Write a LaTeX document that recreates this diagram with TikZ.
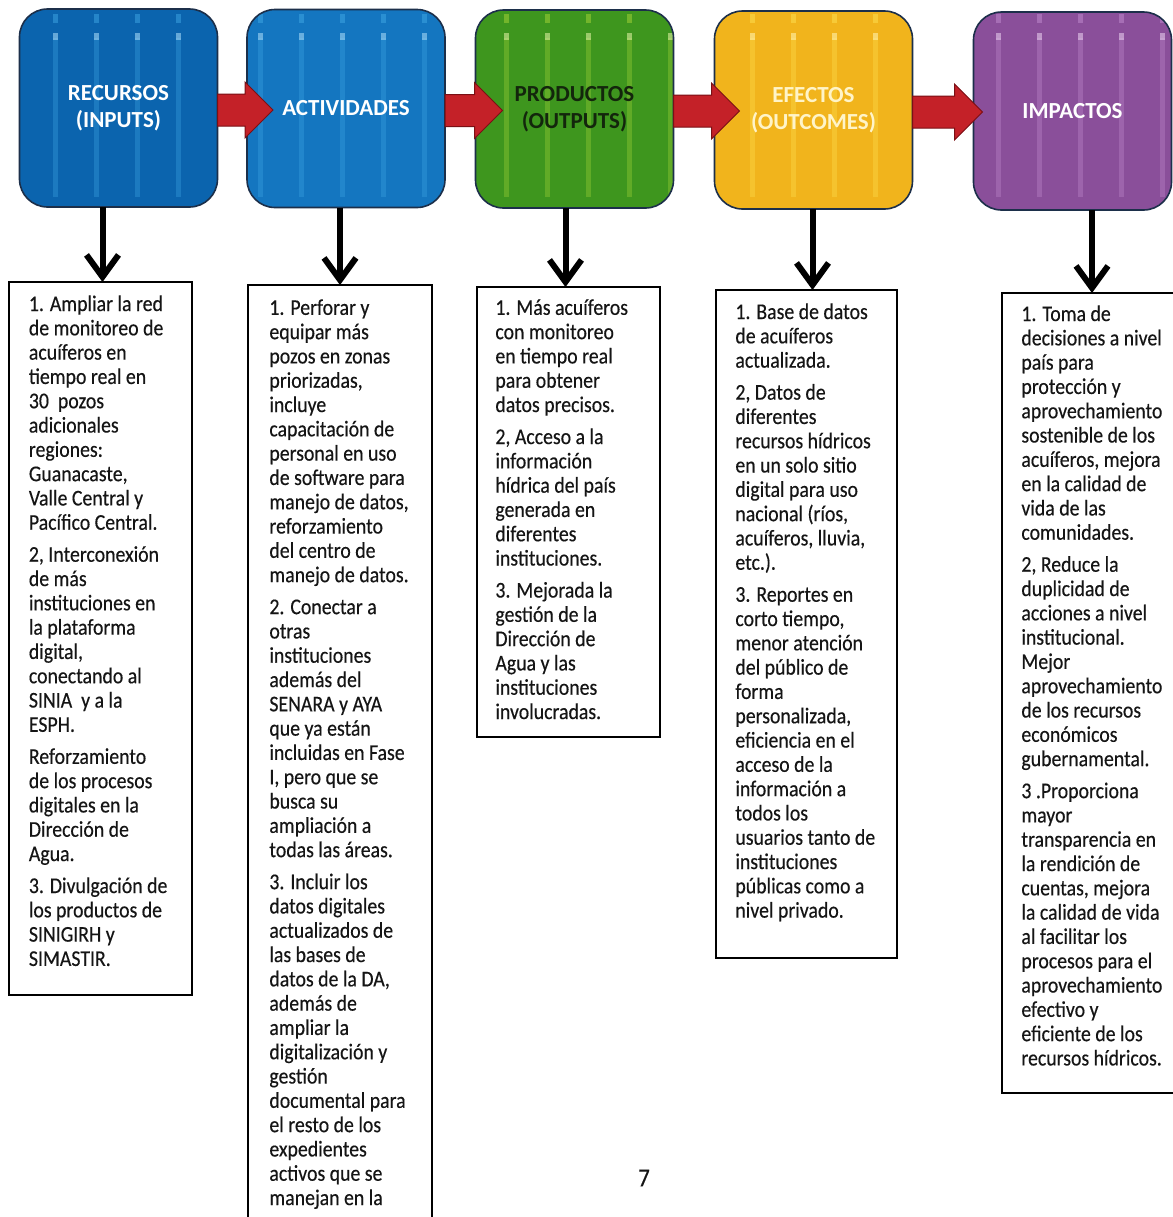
\documentclass[tikz,border=0pt]{standalone}
\usepackage{fontspec}
\setmainfont{Carlito}
\newfontfamily\bodyfont{Carlito}[FakeStretch=0.88,FakeBold=0.35]
\usetikzlibrary{arrows.meta,calc,backgrounds}

\definecolor{boxedge}{HTML}{1C2F4A}
\definecolor{blueA}{HTML}{0B64AE}
\definecolor{blueB}{HTML}{1476C0}
\definecolor{stripeblue}{HTML}{45AEEA}
\definecolor{greenA}{HTML}{3E961E}
\definecolor{stripegreen}{HTML}{B4DC3C}
\definecolor{yellowA}{HTML}{F1B41C}
\definecolor{stripeyellow}{HTML}{FFE65A}
\definecolor{purpleA}{HTML}{8A4F9A}
\definecolor{stripepurple}{HTML}{C995D6}
\definecolor{arrowred}{HTML}{C42128}
\definecolor{arrowedge}{HTML}{7A1015}
\definecolor{darktitle}{HTML}{13260C}
\definecolor{creamtitle}{HTML}{FFF4C8}
\definecolor{bodyink}{HTML}{151515}

\tikzset{
  topbox/.style={rounded corners=14pt, draw=boxedge, line width=0.8pt,
    minimum width=99pt, minimum height=99pt, outer sep=0pt, inner sep=0pt,
    align=center, font=\bfseries\fontsize{11.5pt}{13.5pt}\selectfont},
  txtframe/.style={draw=black, line width=1.1pt, anchor=north west,
    inner sep=0pt, outer sep=0pt},
  bodytext/.style={anchor=north west, align=left, inner sep=0pt, text=bodyink,
    font=\bodyfont\fontsize{11.25pt}{12.15pt}\selectfont},
  downarrow/.style={line width=3pt, draw=black,
    -{Straight Barb[length=11pt,width=16pt]}},
  redarrow/.style={fill=arrowred, draw=arrowedge, line width=0.5pt, line join=miter},
}

\newcommand\drawstripes[3]{%
  \fill[#2, rounded corners=14pt] (#1.south west) rectangle (#1.north east);
  \begin{scope}
    \clip[rounded corners=14pt] (#1.south west) rectangle (#1.north east);
    \foreach \k in {0,...,27}{
      \draw[#3, opacity=0.3, line width=2.5pt] (55+41*\k,38) -- (55+41*\k,197);
      \draw[#3!50!white, opacity=0.6, line width=2.5pt] (55+41*\k,33) -- (55+41*\k,40);
      \draw[#3, opacity=0.45, line width=2.5pt] (55+41*\k,14) -- (55+41*\k,23);
    }
  \end{scope}}

\begin{document}
\begin{tikzpicture}[x=0.5pt,y=-0.5pt]
\clip (0,0) rectangle (1173,1217);

% top boxes
\node[topbox, text=white] (b1) at (118.5,108) {RECURSOS\\(INPUTS)};
\node[topbox, text=white] (b2) at (346,108.5) {ACTIVIDADES};
\node[topbox, text=darktitle] (b3) at (574.5,109) {PRODUCTOS\\(OUTPUTS)};
\node[topbox, text=creamtitle] (b4) at (813.5,110) {EFECTOS\\(OUTCOMES)};
\node[topbox, text=white] (b5) at (1072.5,111) {IMPACTOS};

\begin{scope}[on background layer]
  \fill[white] (0,0) rectangle (1173,1217);
  \drawstripes{b1}{blueA}{stripeblue}
  \drawstripes{b2}{blueB}{stripeblue}
  \drawstripes{b3}{greenA}{stripegreen}
  \drawstripes{b4}{yellowA}{stripeyellow}
  \drawstripes{b5}{purpleA}{stripepurple}
\end{scope}

% red arrows between the top boxes
\foreach \a/\b/\o in {b1/b2/26,b2/b3/27,b3/b4/25,b4/b5/9}{
  \coordinate (st) at ($(\a.east)+(0,2)$);
  \coordinate (tx) at ($(\b.west)+(\o,0)$);
  \coordinate (tip) at (tx |- st);
  \draw[redarrow] ($(st)+(0,-16)$) -- ($(tip)+(-28,-16)$) -- ($(tip)+(-28,-28)$)
    -- (tip) -- ($(tip)+(-28,28)$) -- ($(tip)+(-28,16)$) -- ($(st)+(0,16)$) -- cycle;
}

% text frames
\node[txtframe, minimum width=91.5pt, minimum height=356.5pt] (f1) at (9,282) {};
\node[txtframe, minimum width=92pt, minimum height=480pt] (f2) at (248,285) {};
\node[txtframe, minimum width=91.5pt, minimum height=225pt] (f3) at (477,287) {};
\node[txtframe, minimum width=90.5pt, minimum height=334pt] (f4) at (716,290) {};
\node[txtframe, minimum width=87pt, minimum height=400pt] (f5) at (1002,293) {};

% down arrows
\foreach \i/\d in {1/2,2/0,3/-3,4/6,5/3}{
  \coordinate (e\i) at ($(f\i.north)+(\d,0)$);
  \draw[downarrow] (e\i |- b\i.south) -- (e\i);
}

% texts
\node[bodytext] (t1) at ($(f1.north west)+(19.5,13)$) {%
1. Ampliar la red\\
de monitoreo de\\
acuíferos en\\
tiempo real en\\
30\ \ pozos\\
adicionales\\
regiones:\\
Guanacaste,\\
Valle Central y\\
Pacífico Central.\\[3.85pt]
2, Interconexión\\
de más\\
instituciones en\\
la plataforma\\
digital,\\
conectando al\\
SINIA\ \ y a la\\
ESPH.\\[3.85pt]
Reforzamiento\\
de los procesos\\
digitales en la\\
Dirección de\\
Agua.\\[3.85pt]
3. Divulgación de\\
los productos de\\
SINIGIRH y\\
SIMASTIR.};

\node[bodytext] (t2) at ($(f2.north west)+(21,14)$) {%
1. Perforar y\\
equipar más\\
pozos en zonas\\
priorizadas,\\
incluye\\
capacitación de\\
personal en uso\\
de software para\\
manejo de datos,\\
reforzamiento\\
del centro de\\
manejo de datos.\\[3.85pt]
2. Conectar a\\
otras\\
instituciones\\
además del\\
SENARA y AYA\\
que ya están\\
incluidas en Fase\\
I, pero que se\\
busca su\\
ampliación a\\
todas las áreas.\\[3.85pt]
3. Incluir los\\
datos digitales\\
actualizados de\\
las bases de\\
datos de la DA,\\
además de\\
ampliar la\\
digitalización y\\
gestión\\
documental para\\
el resto de los\\
expedientes\\
activos que se\\
manejan en la};

\node[bodytext] (t3) at ($(f3.north west)+(18,12)$) {%
1. Más acuíferos\\
con monitoreo\\
en tiempo real\\
para obtener\\
datos precisos.\\[3.85pt]
2, Acceso a la\\
información\\
hídrica del país\\
generada en\\
diferentes\\
instituciones.\\[3.85pt]
3. Mejorada la\\
gestión de la\\
Dirección de\\
Agua y las\\
instituciones\\
involucradas.};

\node[bodytext] (t4) at ($(f4.north west)+(19,13)$) {%
1. Base de datos\\
de acuíferos\\
actualizada.\\[3.85pt]
2, Datos de\\
diferentes\\
recursos hídricos\\
en un solo sitio\\
digital para uso\\
nacional (ríos,\\
acuíferos, lluvia,\\
etc.).\\[3.85pt]
3. Reportes en\\
corto tiempo,\\
menor atención\\
del público de\\
forma\\
personalizada,\\
eficiencia en el\\
acceso de la\\
información a\\
todos los\\
usuarios tanto de\\
instituciones\\
públicas como a\\
nivel privado.};

\node[bodytext] (t5) at ($(f5.north west)+(19,12)$) {%
1. Toma de\\
decisiones a nivel\\
país para\\
protección y\\
aprovechamiento\\
sostenible de los\\
acuíferos, mejora\\
en la calidad de\\
vida de las\\
comunidades.\\[3.85pt]
2, Reduce la\\
duplicidad de\\
acciones a nivel\\
institucional.\\
Mejor\\
aprovechamiento\\
de los recursos\\
económicos\\
gubernamental.\\[3.85pt]
3 .Proporciona\\
mayor\\
transparencia en\\
la rendición de\\
cuentas, mejora\\
la calidad de vida\\
al facilitar los\\
procesos para el\\
aprovechamiento\\
efectivo y\\
eficiente de los\\
recursos hídricos.};

\node[font=\bodyfont\fontsize{13pt}{15pt}\selectfont, text=bodyink] (pnum) at (644,1178) {7};
\end{tikzpicture}
\end{document}
